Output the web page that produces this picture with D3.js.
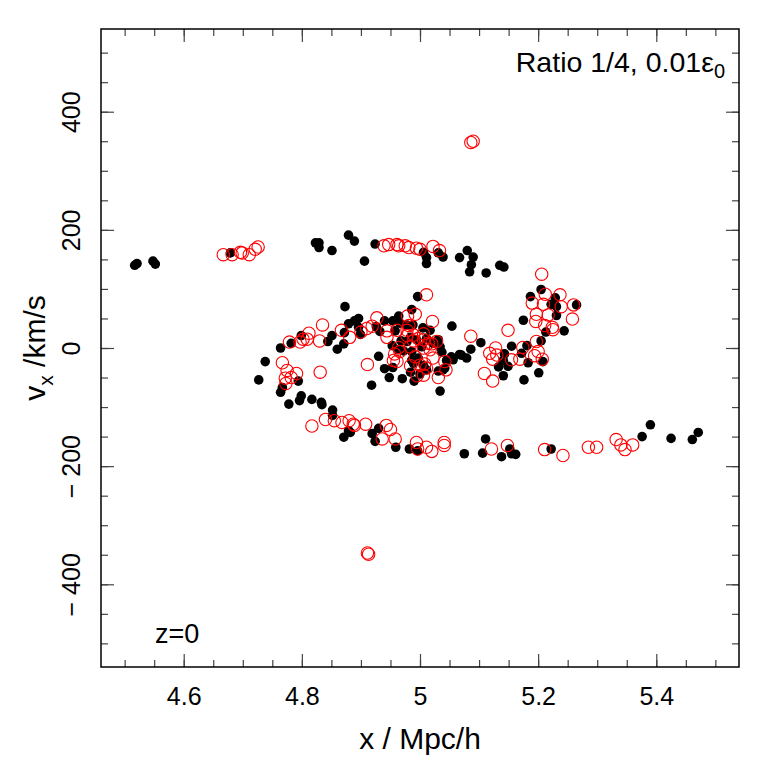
<!DOCTYPE html>
<html>
<head>
<meta charset="utf-8">
<script src="https://cdn.jsdelivr.net/npm/d3@7"></script>
<style>
  body { margin: 0; background: #fff; }
  svg text { font-family: "Liberation Sans", Arial, sans-serif; fill: #000; }
</style>
</head>
<body>
<svg id="chart" width="768" height="768"></svg>
<script>
// x in Mpc/h, vx in km/s
const blackPoints = [
  [4.517,140],[4.521,143],[4.548,147],[4.552,142],[4.679,161],
  [4.823,178],[4.829,178],[4.829,170],[4.851,165],[4.879,191],[4.889,181],[4.906,147],[4.924,176],
  [4.996,87],[4.873,70],[4.986,65],[4.896,50],[4.889,46],[4.879,41],[4.940,46],[4.954,46],[4.964,54],
  [4.896,35],[4.899,23],[4.926,36],[4.932,28],[4.958,29],[4.872,26],[4.851,21],[4.844,11],[4.799,21],
  [4.782,8],[4.764,0],[4.860,-2],[4.871,7],[4.953,4],[4.968,12],[4.984,18],[4.972,-5],[4.930,-14],
  [4.738,-23],[4.727,-54],[4.794,-56],[4.764,-75],[4.767,-67],[4.799,-81],[4.796,-89],[4.778,-95],
  [4.817,-87],[4.833,-92],[4.834,-96],[4.852,-105],[4.852,-114],[4.918,-63],[4.948,-50],[4.940,-35],
  [4.954,-33],[4.970,-52],[4.984,-41],[4.990,-56],[4.986,-21],[4.879,-140],[4.871,-151],[4.882,-143],
  [4.919,-145],[4.930,-136],[4.924,-158],[4.959,-168],[4.982,-171],[4.996,-174],
  [4.966,42],[4.978,39],[4.988,39],[5.005,34],[5.017,30],[4.978,11],[4.994,14],[5.003,2],[5.011,16],
  [5.022,8],[4.986,-6],[4.963,-3],[4.997,-17],[4.989,-26],[5.006,-30],[5.042,-34],[5.070,-12],
  [5.006,162],[5.011,153],[5.011,143],[5.031,161],[5.039,154],[5.067,153],[5.080,165],[5.090,154],
  [5.087,141],[5.084,129],[5.112,127],[5.135,140],[5.142,137],
  [5.205,99],[5.187,87],[5.229,85],[5.222,74],[5.231,70],[5.265,73],[5.231,55],[5.175,47],[5.213,27],
  [5.244,29],[5.205,12],[5.054,37],[5.103,9],[5.086,-2],[5.155,3],[5.181,4],[5.172,-9],[5.143,-10],
  [5.133,-32],[5.141,-47],[5.149,-31],[5.141,-21],[5.183,-25],[5.208,-23],[5.201,-42],[5.176,-54],
  [5.031,14],[5.034,2],[5.037,-7],[5.053,-15],[5.056,-20],[5.067,-11],[5.079,-17],[5.045,-21],
  [5.039,-37],[5.031,-39],[5.011,-37],[5.034,-73],[5.0,-44],
  [5.075,-179],[5.106,-178],[5.111,-154],[5.138,-184],[5.152,-171],[5.162,-180],[5.155,-179],
  [5.222,-171],[5.376,-150],[5.390,-130],[5.425,-153],[5.461,-155],[5.471,-143]
];

const redPoints = [
  [4.667,158],[4.682,158],[4.696,162],[4.699,161],[4.711,158],[4.721,167],[4.726,171],
  [4.939,173],[4.947,175],[4.961,175],[4.964,173],[4.975,173],[4.981,170],[4.994,169],
  [4.835,39],[4.867,30],[4.812,25],[4.802,15],[4.809,15],[4.779,10],[4.797,10],[4.830,12],[4.881,18],
  [4.900,27],[4.919,37],[4.927,51],[4.944,29],[4.944,18],[4.979,54],[4.992,57],[4.981,38],[4.978,21],
  [4.989,12],[4.964,1],[4.957,-10],[4.955,-21],[4.911,-28],[4.984,-30],[4.995,-47],[4.831,-41],
  [4.767,-25],[4.775,-38],[4.791,-43],[4.782,-50],[4.772,-51],[4.773,-60],
  [4.817,-132],[4.840,-121],[4.855,-123],[4.868,-126],[4.880,-123],[4.887,-129],[4.889,-131],
  [4.908,-129],[4.943,-131],[4.950,-138],[4.958,-154],[4.936,-154],[4.994,-160],[4.996,-171],
  [5.011,90],[5.021,45],[4.961,30],[4.978,30],[4.989,22],[4.997,16],[5.006,14],[5.014,8],[5.006,0],
  [5.017,-3],[5.028,11],[4.983,2],[4.966,-6],[4.961,-23],[4.992,-15],[5.0,-29],[5.011,-34],
  [5.022,-17],[5.006,-46],[4.910,33],
  [5.022,172],[5.033,165],[5.0,167],
  [5.206,125],[5.212,91],[5.237,90],[5.190,76],[5.209,74],[5.239,70],[5.260,73],[5.197,57],[5.217,56],
  [5.196,45],[5.258,49],[5.224,35],[5.225,31],[5.211,38],[5.149,30],[5.086,20],[5.197,11],[5.200,-6],
  [5.194,-13],[5.207,-19],[5.174,1],[5.169,-19],[5.155,-20],[5.128,0],[5.118,-9],[5.123,-19],
  [5.130,-12],[5.109,-43],[5.123,-56],
  [5.020,7],[5.042,-23],[5.044,-37],[5.031,-50],[5.006,24],[5.008,-27],
  [5.011,-168],[5.020,-175],[5.041,-160],[5.041,-165],[5.121,-171],[5.148,-165],[5.211,-172],
  [5.242,-182],[5.285,-168],[5.299,-168],[5.332,-155],[5.340,-164],[5.347,-172],[5.360,-164],
  [5.086,348],[5.090,350],[4.911,-347],[4.913,-349]
];

const xMajor = [4.6, 4.8, 5.0, 5.2, 5.4];
const xMinor = d3.range(4.5, 5.5001, 0.05);
const yMajor = [-400, -200, 0, 200, 400];
const yMinor = d3.range(-500, 501, 50);

const xLimits = [4.5, 5.5];
const yLimits = [-500, 500];

const svg = d3.select("#chart");
const box = { left: 101, right: 739, top: 29, bottom: 667 };

// R style: 4% padding on each side
const pad = (lim) => {
  const d = (lim[1] - lim[0]) * 0.04;
  return [lim[0] - d, lim[1] + d];
};

const xScale = d3.scaleLinear().domain(pad(xLimits)).range([box.left, box.right]);
const yScale = d3.scaleLinear().domain(pad(yLimits)).range([box.bottom, box.top]);

const plotW = box.right - box.left;
const plotH = box.bottom - box.top;

const tickFmt = (d) => (d < 0 ? "\u2212 " + Math.abs(d) : String(+d.toFixed(1)));

// ticks pointing inward on all four sides
const addTicks = (axisFn, scale, values, size, transform, labels) => {
  const g = svg.append("g")
    .attr("transform", transform)
    .call(axisFn(scale).tickValues(values).tickSize(-size).tickPadding(0)
      .tickFormat(labels ? tickFmt : ""));
  g.select(".domain").remove();
  g.selectAll(".tick line").attr("stroke", "#444").attr("stroke-width", 1.2);
  return g;
};

const bottomG = addTicks(d3.axisBottom, xScale, xMajor, 13, `translate(0,${box.bottom})`, true);
addTicks(d3.axisBottom, xScale, xMinor, 7, `translate(0,${box.bottom})`, false);
addTicks(d3.axisTop, xScale, xMajor, 13, `translate(0,${box.top})`, false);
addTicks(d3.axisTop, xScale, xMinor, 7, `translate(0,${box.top})`, false);
const leftG = addTicks(d3.axisLeft, yScale, yMajor, 13, `translate(${box.left},0)`, true);
addTicks(d3.axisLeft, yScale, yMinor, 7, `translate(${box.left},0)`, false);
addTicks(d3.axisRight, yScale, yMajor, 13, `translate(${box.right},0)`, false);
addTicks(d3.axisRight, yScale, yMinor, 7, `translate(${box.right},0)`, false);

bottomG.selectAll(".tick text")
  .attr("y", 38).attr("dy", 0)
  .style("font-size", "25px");

leftG.selectAll(".tick text")
  .attr("x", 0).attr("dy", 0)
  .attr("text-anchor", "middle")
  .attr("transform", `translate(-21,0) rotate(-90)`)
  .style("font-size", "25px");

// points
svg.append("g")
  .selectAll("circle")
  .data(blackPoints)
  .join("circle")
  .attr("cx", (d) => xScale(d[0]))
  .attr("cy", (d) => yScale(d[1]))
  .attr("r", 4.8)
  .attr("fill", "#000");

svg.append("g")
  .selectAll("circle")
  .data(redPoints)
  .join("circle")
  .attr("cx", (d) => xScale(d[0]))
  .attr("cy", (d) => yScale(d[1]))
  .attr("r", 6.2)
  .attr("fill", "none")
  .attr("stroke", "#ff0000")
  .attr("stroke-width", 1.1);

// frame
svg.append("rect")
  .attr("x", box.left).attr("y", box.top)
  .attr("width", plotW).attr("height", plotH)
  .attr("fill", "none").attr("stroke", "#000").attr("stroke-width", 1.5);

// axis titles
svg.append("text")
  .attr("x", (box.left + box.right) / 2)
  .attr("y", 749)
  .attr("text-anchor", "middle")
  .style("font-size", "30px")
  .text("x / Mpc/h");

const yTitle = svg.append("text")
  .attr("text-anchor", "middle")
  .attr("transform", `translate(45,${(box.top + box.bottom) / 2}) rotate(-90)`)
  .style("font-size", "30px");
yTitle.append("tspan").text("v");
yTitle.append("tspan").attr("dy", 8).style("font-size", "21px").text("x");
yTitle.append("tspan").attr("dy", -8).text(" /km/s");

// annotations
const ratio = svg.append("text")
  .attr("x", 725).attr("y", 72)
  .attr("text-anchor", "end")
  .style("font-size", "28.5px");
ratio.append("tspan").text("Ratio 1/4, 0.01\u03b5");
ratio.append("tspan").attr("dy", 6).style("font-size", "20px").text("0");

svg.append("text")
  .attr("x", 155).attr("y", 643)
  .style("font-size", "27px")
  .text("z=0");
</script>
</body>
</html>
